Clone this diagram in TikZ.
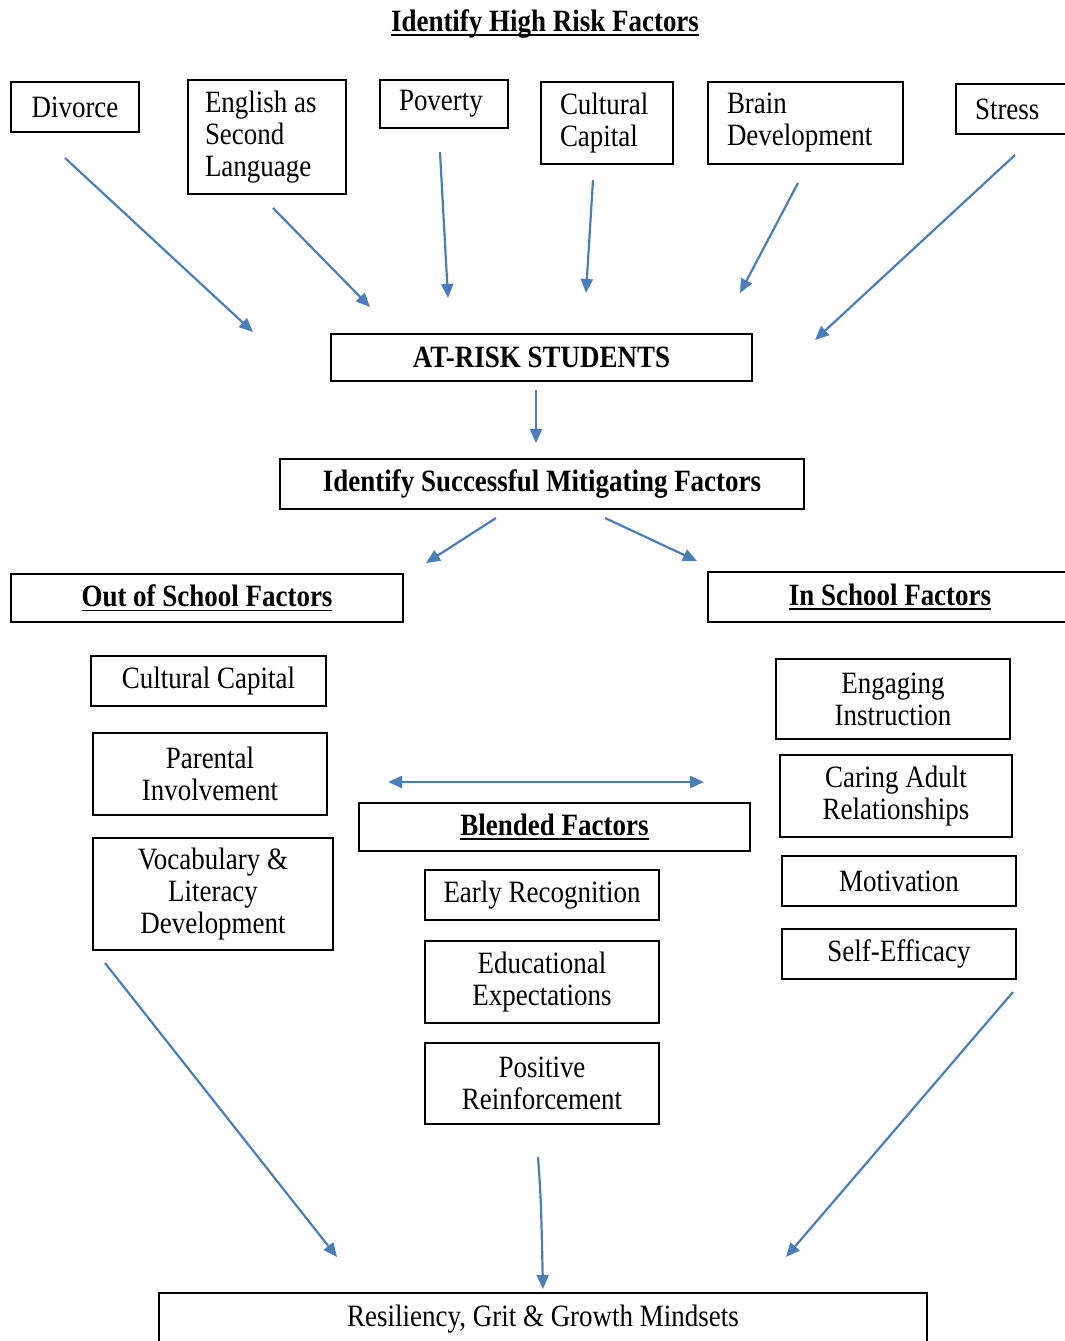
\documentclass[tikz,border=0pt]{standalone}
\usepackage{fontspec}
\setmainfont{Liberation Serif}[FakeStretch=0.87]
\usetikzlibrary{arrows.meta}
\definecolor{arrowblue}{RGB}{74,126,187}
\newcommand\ulx[1]{\setbox0=\hbox{#1}\rlap{\rule[-4.5pt]{\wd0}{1.6pt}}\box0}
\begin{document}
\begin{tikzpicture}[x=1pt,y=-1pt,
  every node/.style={font=\fontsize{31}{32}\selectfont},
  box/.style={draw, line width=1.7pt, inner sep=0pt, align=center},
  lbox/.style={box, align=flush left},
  conn/.style={arrowblue, line width=2.2pt, -{Triangle[length=14pt,width=12pt]}},
  dconn/.style={arrowblue, line width=2.2pt, {Triangle[length=14pt,width=12pt]}-{Triangle[length=14pt,width=12pt]}}]
\useasboundingbox (0,0) rectangle (1065,1341);
\clip (0,0) rectangle (1065,1341);

% title
\node (title) at (545,24) {\bfseries\ulx{Identify High Risk Factors}};

% top row
\node[box, minimum width=128pt, minimum height=50pt] (div) at (75,107) {Divorce};
\node[lbox, text width=124pt, inner xsep=17pt, minimum height=114pt] (esl) at (267,137) {English as\\Second\\Language};
\node[lbox, text width=90pt, inner xsep=19pt, minimum height=48pt] (pov) at (444,104) {Poverty};
\node[lbox, text width=94pt, inner xsep=19pt, minimum height=82pt] (cc1) at (607,123) {Cultural\\Capital};
\node[lbox, text width=157pt, inner xsep=19pt, minimum height=82pt] (brain) at (805.5,123) {Brain\\Development};
\node[lbox, text width=86pt, inner xsep=19pt, minimum height=50pt] (stress) at (1018,109) {Stress};

% middle
\node[box, minimum width=421pt, minimum height=47pt] (atrisk) at (541.5,357.5) {\bfseries AT-RISK STUDENTS};
\node[box, minimum width=524pt, minimum height=50pt] (ident) at (542,484) {\bfseries Identify Successful Mitigating Factors};
\node[box, minimum width=392pt, minimum height=48pt] (out) at (207,598) {\bfseries\ulx{Out of School Factors}};
\node[box, minimum width=364pt, minimum height=50pt] (in) at (890,597) {\bfseries\ulx{In School Factors}};

% out of school
\node[box, minimum width=235pt, minimum height=50pt] (occ) at (208.5,681) {Cultural Capital};
\node[box, minimum width=234pt, minimum height=82pt] (par) at (210,774) {Parental\\Involvement};
\node[box, minimum width=240pt, minimum height=112pt] (voc) at (213,894) {Vocabulary \&\\Literacy\\Development};

% in school
\node[box, minimum width=234pt, minimum height=80pt] (eng) at (893,699) {Engaging\\Instruction};
\node[box, minimum width=232pt, minimum height=82pt] (car) at (896,796) {Caring Adult\\Relationships};
\node[box, minimum width=234pt, minimum height=50pt] (mot) at (899,881) {Motivation};
\node[box, minimum width=234pt, minimum height=50pt] (self) at (899,954) {Self-Efficacy};

% blended
\node[box, minimum width=391pt, minimum height=48pt] (blend) at (554.5,827) {\bfseries\ulx{Blended Factors}};
\node[box, minimum width=234pt, minimum height=50pt] (early) at (542,895) {Early Recognition};
\node[box, minimum width=234pt, minimum height=82pt] (edu) at (542,982) {Educational\\Expectations};
\node[box, minimum width=234pt, minimum height=81pt] (pos) at (542,1083.5) {Positive\\Reinforcement};

% result
\node[box, minimum width=768pt, minimum height=52pt] (res) at (543,1319) {Resiliency, Grit \& Growth Mindsets};

% connector end points
\coordinate (a1s) at (65,158);   \coordinate (a1e) at (253,332);
\coordinate (a2s) at (273,208);  \coordinate (a2e) at (370,307);
\coordinate (a3s) at (440,152);  \coordinate (a3e) at (448,298);
\coordinate (a4s) at (593,180);  \coordinate (a4e) at (586,293);
\coordinate (a5s) at (798,183);  \coordinate (a5e) at (740,293);
\coordinate (a6s) at (1015,155); \coordinate (a6e) at (815,340);
\coordinate (b1s) at (536,390);  \coordinate (b1e) at (536,443);
\coordinate (c1s) at (496,518);  \coordinate (c1e) at (426,563);
\coordinate (c2s) at (605,518);  \coordinate (c2e) at (697,561);
\coordinate (dl) at (388,782);   \coordinate (dr) at (704,782);
\coordinate (e1s) at (105,963);  \coordinate (e1e) at (337,1257);
\coordinate (e2s) at (538,1157); \coordinate (e2e) at (543,1289);
\coordinate (e3s) at (1013,992); \coordinate (e3e) at (786,1257);

\draw[conn] (a1s) -- (a1e);
\draw[conn] (a2s) -- (a2e);
\draw[conn] (a3s) -- (a3e);
\draw[conn] (a4s) -- (a4e);
\draw[conn] (a5s) -- (a5e);
\draw[conn] (a6s) -- (a6e);
\draw[conn] (b1s) -- (b1e);
\draw[conn] (c1s) -- (c1e);
\draw[conn] (c2s) -- (c2e);
\draw[dconn] (dl) -- (dr);
\draw[conn] (e1s) -- (e1e);
\draw[conn] (e2s) .. controls (541,1200) .. (e2e);
\draw[conn] (e3s) -- (e3e);
\end{tikzpicture}
\end{document}
